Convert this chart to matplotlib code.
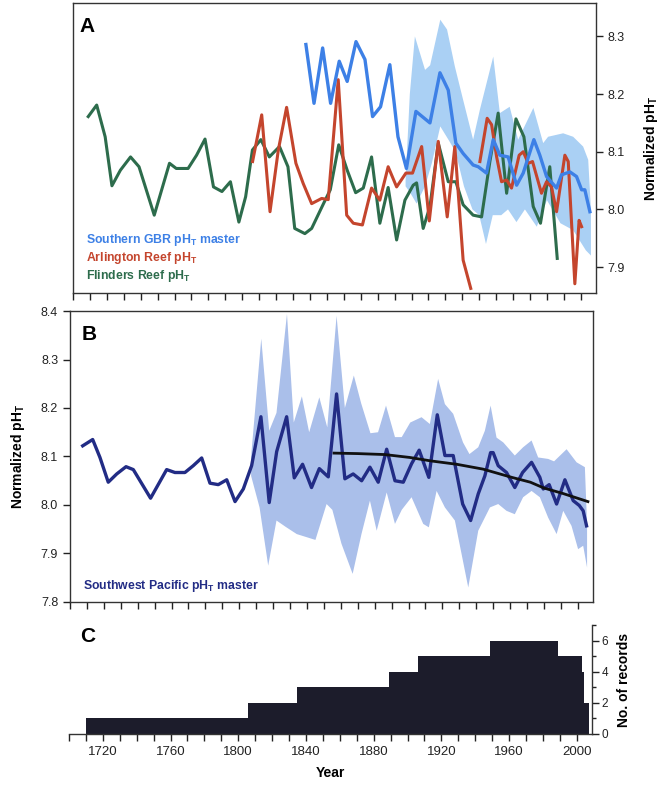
import numpy as np
import matplotlib.pyplot as plt
from matplotlib.ticker import MultipleLocator, FixedLocator
import matplotlib.transforms as mtransforms

plt.rcParams['font.family'] = ['Liberation Sans', 'DejaVu Sans']
plt.rcParams['mathtext.fontset'] = 'custom'
plt.rcParams['mathtext.rm'] = 'Liberation Sans'
plt.rcParams['mathtext.bf'] = 'Liberation Sans:bold'

# ---- panel A: Great Barrier Reef records ----
flinders_yr = [1709, 1714, 1719, 1723, 1728, 1734, 1739, 1748, 1757, 1761, 1768, 1773,
               1778, 1783, 1788, 1793, 1798, 1802, 1806, 1811, 1816, 1822, 1827, 1831,
               1837, 1841, 1848, 1852, 1857, 1862, 1867, 1871.5, 1876.4, 1881.3, 1886.2,
               1891.2, 1896.1, 1901, 1903, 1906.9, 1910.9, 1915.8, 1921.7, 1926.2, 1930.5,
               1936.4, 1941.4, 1946.3, 1951.2, 1956.2, 1961.7, 1966.4, 1971.9, 1976.2,
               1981.7, 1986.1]
flinders_ph = [8.161, 8.181, 8.126, 8.041, 8.068, 8.091, 8.074, 7.990, 8.080, 8.071, 8.071, 8.094,
               8.122, 8.039, 8.031, 8.048, 7.978, 8.022, 8.103, 8.121, 8.091, 8.109, 8.074, 7.967,
               7.958, 7.967, 8.010, 8.034, 8.112, 8.068, 8.029, 8.037, 8.091, 7.976, 8.038,
               7.947, 8.016, 8.042, 8.046, 7.967, 8.005, 8.115, 8.048, 8.048, 8.008,
               7.990, 7.987, 8.083, 8.167, 8.028, 8.157, 8.126, 8.005, 7.976,
               8.074, 7.915]

arlington_yr = [1806.1, 1811.5, 1816.4, 1821.3, 1826.2, 1831.7, 1836, 1841, 1846.9, 1850.8,
                1856.7, 1861.7, 1865.6, 1871, 1876.4, 1881.3, 1886.2, 1891.2, 1896.7, 1900.6,
                1906, 1910.5, 1915.8, 1921.1, 1925.6, 1930.5, 1935, 1937.5,
                1940.4, 1944.7, 1947.3, 1950.3, 1953.2, 1956.2, 1959.1, 1963.6, 1966, 1969,
                1971.5, 1976.8, 1979.8, 1982.7, 1985.7, 1990.6, 1992.6, 1996.5, 1999, 2000.5]
arlington_ph = [8.083, 8.164, 7.996, 8.103, 8.177, 8.080, 8.045, 8.010, 8.019, 8.017,
                8.225, 7.990, 7.976, 7.973, 8.037, 8.016, 8.074, 8.039, 8.063, 8.063,
                8.109, 7.980, 8.118, 7.987, 8.109, 7.912, 7.863, np.nan,
                8.083, 8.158, 8.147, 8.091, 8.048, 8.051, 8.037, 8.094, 8.100, 8.080,
                8.083, 8.028, 8.048, 8.039, 7.996, 8.094, 8.083, 7.871, 7.981, 7.970]

gbr_yr = [1837.6, 1842.4, 1847.5, 1852.2, 1857.3, 1862, 1867.2, 1872.5, 1877, 1881.7,
          1887.2, 1892, 1897, 1902.6, 1910.9, 1916.8, 1921.7, 1926.2, 1930.5, 1936.4,
          1939.4, 1944.3, 1948.3, 1952.2, 1957.1, 1962.1, 1966, 1972.3, 1975.8, 1979.8,
          1985.7, 1988.6, 1993.6, 1997.5, 2000.5, 2002.4, 2005.4]
gbr_ph = [8.286, 8.184, 8.280, 8.184, 8.257, 8.222, 8.291, 8.260, 8.161, 8.178,
          8.251, 8.126, 8.071, 8.170, 8.150, 8.237, 8.207, 8.115, 8.097, 8.077,
          8.074, 8.063, 8.121, 8.094, 8.091, 8.042, 8.063, 8.121, 8.094, 8.057,
          8.037, 8.060, 8.065, 8.057, 8.034, 8.034, 7.996]

gbr_hi_yr = [1896.5, 1899, 1902, 1908, 1911, 1917, 1921, 1925.6, 1930.5, 1936.4, 1940.4,
             1948.3, 1952.2, 1958, 1963, 1972, 1977.8, 1980.7, 1989.6, 1995.5, 2001.4,
             2004.4, 2006]
gbr_hi_ph = [8.05, 8.20, 8.30, 8.242, 8.25, 8.329, 8.312, 8.248, 8.19, 8.121, 8.173,
             8.265, 8.167, 8.178, 8.121, 8.176, 8.115, 8.126, 8.132, 8.126, 8.109,
             8.086, 8.00]
gbr_lo_yr = [1896.5, 1899, 1903, 1908, 1912, 1917, 1922, 1926, 1931, 1936, 1940, 1944,
             1948, 1953, 1957, 1962, 1967, 1974, 1980, 1988, 1995.5, 2003, 2006]
gbr_lo_ph = [8.04, 8.03, 8.01, 8.04, 8.08, 8.144, 8.12, 8.10, 8.04, 8.00, 7.99, 7.94,
             7.99, 7.99, 8.00, 7.978, 8.00, 7.97, 8.016, 7.976, 7.964, 7.929, 7.92]

# ---- panel B: Southwest Pacific master ----
swp_yr = [1707.5, 1713.4, 1717.7, 1722.6, 1727.6, 1733.1, 1737.4, 1747.6, 1757.1, 1762,
          1767.9, 1772.8, 1777.8, 1782.7, 1787.6, 1792.6, 1797.5, 1802.4, 1807.3, 1812.8,
          1817.7, 1822.1, 1828, 1832.5, 1837.4, 1842.7, 1847.3, 1852.6, 1857.5, 1862.4,
          1867.3, 1872.3, 1877.2, 1882.1, 1887.1, 1892, 1896.9, 1901.8, 1906.3, 1912,
          1917, 1921.5, 1926.4, 1932, 1936.7, 1941.2, 1945.1, 1948.5, 1950, 1953,
          1957.9, 1962.8, 1967.4, 1972.7, 1977.6, 1979.6, 1983.1, 1987.5, 1992.4, 1997.3,
          2000.9, 2003.2, 2005.2]
swp_ph = [8.122, 8.135, 8.098, 8.047, 8.064, 8.079, 8.073, 8.014, 8.073, 8.067,
          8.067, 8.081, 8.097, 8.045, 8.042, 8.052, 8.007, 8.033, 8.081, 8.182,
          8.005, 8.110, 8.182, 8.056, 8.084, 8.036, 8.075, 8.058, 8.229, 8.054,
          8.064, 8.050, 8.078, 8.047, 8.115, 8.050, 8.047, 8.085, 8.113, 8.057,
          8.186, 8.102, 8.102, 8.002, 7.968, 8.023, 8.060, 8.108, 8.108, 8.081,
          8.067, 8.036, 8.067, 8.088, 8.057, 8.033, 8.042, 8.002, 8.052, 8.009,
          7.999, 7.988, 7.957]

swp_hi_yr = [1807, 1813, 1817.7, 1822, 1828.2, 1832.2, 1837, 1841.3, 1847.3, 1852, 1857.5,
             1862.4, 1867.7, 1872, 1877.5, 1882, 1886.7, 1892, 1896, 1901, 1907.7, 1912.6,
             1917.5, 1921.5, 1926.4, 1932.2, 1936, 1941.2, 1945.1, 1948.5, 1952, 1956,
             1962.8, 1967.7, 1972.7, 1976.6, 1982.5, 1986, 1993.4, 1999.3, 2004.2, 2005.5]
swp_hi_ph = [8.10, 8.343, 8.153, 8.19, 8.394, 8.17, 8.224, 8.15, 8.222, 8.16, 8.39,
             8.20, 8.267, 8.21, 8.148, 8.15, 8.205, 8.14, 8.14, 8.17, 8.181, 8.167,
             8.26, 8.208, 8.188, 8.129, 8.105, 8.119, 8.153, 8.205, 8.139, 8.129,
             8.102, 8.119, 8.133, 8.098, 8.095, 8.09, 8.115, 8.088, 8.078, 7.96]
swp_lo_yr = [1807, 1812, 1817.1, 1822, 1827.4, 1834, 1845, 1851.6, 1855, 1860.4, 1867,
             1872.2, 1877.2, 1881.2, 1887.1, 1892, 1896, 1901.8, 1908.7, 1912, 1916.6,
             1921.5, 1927.4, 1935.3, 1941.2, 1948.1, 1953, 1957.9, 1962.8, 1967.7, 1972.7,
             1977.6, 1982.5, 1987.5, 1991.4, 1996.3, 2000.2, 2003.2, 2005.5]
swp_lo_ph = [8.06, 7.995, 7.875, 7.968, 7.955, 7.940, 7.928, 8.002, 7.99, 7.92, 7.858,
             7.940, 8.009, 7.947, 8.026, 7.961, 7.99, 8.016, 7.961, 7.954, 8.029,
             7.995, 7.968, 7.830, 7.947, 7.995, 8.002, 7.988, 7.981, 8.016, 8.029,
             8.016, 7.974, 7.940, 7.988, 7.957, 7.909, 7.916, 7.871]

trend_yr = [1856, 1870, 1886, 1900.8, 1913, 1928.4, 1944, 1961, 1972, 1980, 1991, 2006]
trend_ph = [8.107, 8.106, 8.104, 8.098, 8.091, 8.084, 8.074, 8.057, 8.047, 8.035, 8.024, 8.007]

# ---- panel C: number of records ----
rec_start = [1710, 1806, 1835, 1889, 1906, 1949, 1989, 2003, 2004]
rec_end = [1806, 1835, 1889, 1906, 1949, 1989, 2003, 2004, 2007]
rec_count = [1, 2, 3, 4, 5, 6, 5, 4, 2]

year_ticks = [1720, 1760, 1800, 1840, 1880, 1920, 1960, 2000]

c_gbr = '#3d80e6'
c_gbr_band = '#aad0f4'
c_arl = '#c4452d'
c_fli = '#2d6c4c'
c_swp = '#222c85'
c_swp_band = '#aabfea'
c_bar = '#1c1c2b'

W, H = 660, 793
fig = plt.figure(figsize=(6.6, 7.93), dpi=100, facecolor='white')


def box(l, r, t, b):
    return [l / W, 1 - b / H, (r - l) / W, (b - t) / H]


axA = fig.add_axes(box(73, 596, 3, 293))
axB = fig.add_axes(box(70, 593, 311, 602))
axC = fig.add_axes(box(69, 592, 625, 734))

for ax in (axA, axB, axC):
    ax.set_xlim(1700, 2009)
    ax.xaxis.set_major_locator(MultipleLocator(10))
    ax.tick_params(axis='both', direction='out', length=5, width=1, labelsize=9,
                   color='#222222', labelcolor='#222222')
    for s in ax.spines.values():
        s.set_linewidth(1)
        s.set_color('#333333')

sub = r'pH$_\mathbf{T}$'

# Panel A
axA.fill(gbr_hi_yr + gbr_lo_yr[::-1], gbr_hi_ph + gbr_lo_ph[::-1],
         color=c_gbr_band, lw=0, zorder=1)
axA.plot(flinders_yr, flinders_ph, color=c_fli, lw=2.2, zorder=3)
axA.plot(arlington_yr, arlington_ph, color=c_arl, lw=2.2, zorder=4)
axA.plot(gbr_yr, gbr_ph, color=c_gbr, lw=2.4, zorder=5)
axA.set_ylim(7.855, 8.358)
axA.yaxis.set_major_locator(FixedLocator([7.9, 8.0, 8.1, 8.2, 8.3]))
axA.yaxis.tick_right()
axA.yaxis.set_label_position('right')
axA.tick_params(axis='x', labelbottom=False)
axA.set_ylabel('Normalized ' + sub, fontsize=10, fontweight='bold', labelpad=12)
axA.text(0.013, 0.918, 'A', transform=axA.transAxes, fontsize=15, fontweight='bold',
         va='center', ha='left')
axA.text(0.025, 0.182, 'Southern GBR ' + sub + ' master', transform=axA.transAxes,
         color=c_gbr, fontsize=8.8, fontweight='bold', va='center')
axA.text(0.025, 0.122, 'Arlington Reef ' + sub, transform=axA.transAxes,
         color=c_arl, fontsize=8.8, fontweight='bold', va='center')
axA.text(0.025, 0.058, 'Flinders Reef ' + sub, transform=axA.transAxes,
         color=c_fli, fontsize=8.8, fontweight='bold', va='center')

# Panel B
axB.fill(swp_hi_yr + swp_lo_yr[::-1], swp_hi_ph + swp_lo_ph[::-1],
         color=c_swp_band, lw=0, zorder=1)
axB.plot(swp_yr, swp_ph, color=c_swp, lw=2.4, zorder=3)
axB.plot(trend_yr, trend_ph, color='#111111', lw=2, zorder=4)
axB.set_ylim(7.8, 8.4)
axB.yaxis.set_major_locator(MultipleLocator(0.1))
axB.yaxis.set_major_formatter(plt.FormatStrFormatter('%.1f'))
axB.tick_params(axis='x', labelbottom=False)
axB.set_ylabel('Normalized ' + sub, fontsize=10, fontweight='bold', labelpad=10)
axB.text(0.023, 0.918, 'B', transform=axB.transAxes, fontsize=15, fontweight='bold',
         va='center', ha='left')
axB.text(0.024, 0.055, 'Southwest Pacific ' + sub + ' master', transform=axB.transAxes,
         color=c_swp, fontsize=8.8, fontweight='bold', va='center')

# Panel C
widths = [e - s for s, e in zip(rec_start, rec_end)]
axC.bar(rec_start, rec_count, width=widths, align='edge', color=c_bar, lw=0)
axC.set_ylim(0, 7)
axC.yaxis.set_major_locator(FixedLocator([0, 2, 4, 6]))
axC.yaxis.set_minor_locator(FixedLocator([1, 3, 5, 7]))
axC.yaxis.tick_right()
axC.yaxis.set_label_position('right')
axC.tick_params(axis='y', which='minor', direction='out', length=3, width=1, color='#222222')
axC.tick_params(axis='y', labelsize=8.5, pad=2)
axC.spines['left'].set_visible(False)
axC.spines['top'].set_visible(False)
axC.set_xticks(np.arange(1700, 2010, 10), minor=False)
axC.set_xticklabels([str(y) if y in year_ticks else '' for y in np.arange(1700, 2010, 10)])
axC.tick_params(axis='x', labelsize=9.5)
axC.set_ylabel('No. of records', fontsize=10, fontweight='bold', labelpad=6)
axC.set_xlabel('Year', fontsize=10, fontweight='bold', labelpad=6)
tr = mtransforms.blended_transform_factory(axC.transAxes, axC.transData)
axC.text(0.021, 6.25, 'C', transform=tr, fontsize=15, fontweight='bold',
         va='center', ha='left')

fig.savefig('out.png', dpi=100)
